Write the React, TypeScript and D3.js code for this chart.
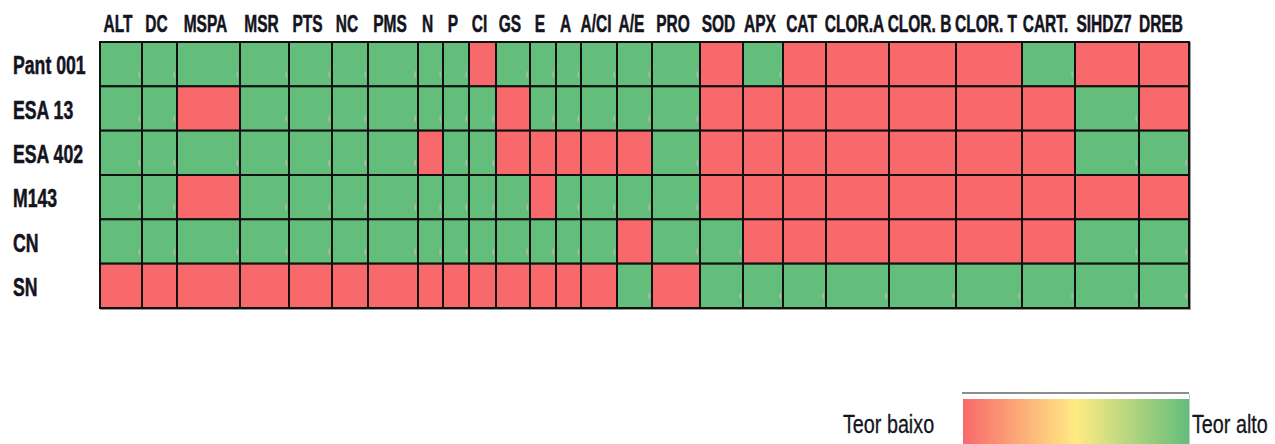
import { useEffect, useRef } from 'react';
import * as d3 from 'd3';

const variables = [
  'ALT', 'DC', 'MSPA', 'MSR', 'PTS', 'NC', 'PMS', 'N', 'P', 'CI', 'GS', 'E', 'A',
  'A/CI', 'A/E', 'PRO', 'SOD', 'APX', 'CAT', 'CLOR.A', 'CLOR. B', 'CLOR. T',
  'CART.', 'SIHDZ7', 'DREB',
];

const genotypes = ['Pant 001', 'ESA 13', 'ESA 402', 'M143', 'CN', 'SN'];

// 1 = teor alto, 0 = teor baixo
const pant001 = [1, 1, 1, 1, 1, 1, 1, 1, 1, 0, 1, 1, 1, 1, 1, 1, 0, 1, 0, 0, 0, 0, 1, 0, 0];
const esa13 = [1, 1, 0, 1, 1, 1, 1, 1, 1, 1, 0, 1, 1, 1, 1, 1, 0, 0, 0, 0, 0, 0, 0, 1, 0];
const esa402 = [1, 1, 1, 1, 1, 1, 1, 0, 1, 1, 0, 0, 0, 0, 0, 1, 0, 0, 0, 0, 0, 0, 0, 1, 1];
const m143 = [1, 1, 0, 1, 1, 1, 1, 1, 1, 1, 1, 0, 1, 1, 1, 1, 0, 0, 0, 0, 0, 0, 0, 0, 0];
const cn = [1, 1, 1, 1, 1, 1, 1, 1, 1, 1, 1, 1, 1, 1, 0, 1, 1, 0, 0, 0, 0, 0, 0, 1, 1];
const sn = [0, 0, 0, 0, 0, 0, 0, 0, 0, 0, 0, 0, 0, 0, 1, 0, 1, 1, 1, 1, 1, 1, 1, 1, 1];

const series = [pant001, esa13, esa402, m143, cn, sn];

// spreadsheet column widths (layout only)
const colWidths = [42, 35, 63, 49, 43, 36, 50, 25, 26, 27, 34, 26, 25, 36, 35, 48, 43, 40, 43, 63, 67, 66, 53, 64, 50];

export default function App() {
  const svgRef = useRef<SVGSVGElement>(null);

  useEffect(() => {
    if (!svgRef.current) return;
    document.body.style.margin = '0';
    const svg = d3.select(svgRef.current);
    svg.selectAll('*').remove();

    const left = 100, right = 1189, top = 42, bottom = 308;
    const font = '"Liberation Sans", Arial, sans-serif';
    const ink = '#141420';
    const sx = 0.66;

    const edges = [0, ...d3.cumsum(colWidths)];
    const x = d3.scaleLinear().domain([0, edges[edges.length - 1]]).range([left, right]);
    const y = d3.scaleBand().domain(genotypes).range([top, bottom]);
    const color = d3.scaleOrdinal<number, string>().domain([0, 1]).range(['#F8696B', '#63BE7B']);

    const cells = series.flatMap((vals, r) =>
      vals.map((v, c) => ({ row: genotypes[r], col: c, v })));

    // shadow of the table
    svg.append('rect')
      .attr('x', left).attr('y', top)
      .attr('width', right - left + 2).attr('height', bottom - top + 2)
      .attr('fill', '#999');

    const g = svg.append('g');
    g.selectAll('rect.cell')
      .data(cells)
      .enter()
      .append('rect')
      .attr('class', 'cell')
      .attr('x', d => x(edges[d.col]))
      .attr('y', d => y(d.row)!)
      .attr('width', d => x(edges[d.col + 1]) - x(edges[d.col]))
      .attr('height', y.bandwidth())
      .attr('fill', d => color(d.v))
      .attr('stroke', '#111')
      .attr('stroke-width', 2);

    // little grey marks in the green cells
    g.selectAll('rect.mark')
      .data(cells.filter(d => d.v === 1))
      .enter()
      .append('rect')
      .attr('x', d => x(edges[d.col + 1]) - 3.5)
      .attr('y', d => y(d.row)! + y.bandwidth() - 15)
      .attr('width', 1.4)
      .attr('height', 6)
      .attr('fill', '#b5b5b5');

    // column headers
    svg.selectAll('text.col')
      .data(variables)
      .enter()
      .append('text')
      .attr('transform', (d, i) =>
        `translate(${(x(edges[i]) + x(edges[i + 1])) / 2 - 3},32) scale(${sx},1)`)
      .attr('text-anchor', 'middle')
      .attr('font-family', font)
      .attr('font-weight', 'bold')
      .attr('font-size', 23.5)
      .attr('fill', ink)
      .attr('stroke', ink)
      .attr('stroke-width', 0.5)
      .text(d => d);

    // row headers
    svg.selectAll('text.row')
      .data(genotypes)
      .enter()
      .append('text')
      .attr('transform', d => `translate(13,${y(d)! + y.bandwidth() / 2 + 10}) scale(0.68,1)`)
      .attr('font-family', font)
      .attr('font-weight', 'bold')
      .attr('font-size', 26)
      .attr('fill', ink)
      .attr('stroke', ink)
      .attr('stroke-width', 0.5)
      .text(d => d);

    // legend
    const defs = svg.append('defs');
    const grad = defs.append('linearGradient').attr('id', 'teor');
    [['0%', '#F8696B'], ['50%', '#FFEB84'], ['100%', '#63BE7B']].forEach(([o, c]) =>
      grad.append('stop').attr('offset', o).attr('stop-color', c));

    const lg = svg.append('g');
    lg.append('line')
      .attr('x1', 962).attr('x2', 1189).attr('y1', 393).attr('y2', 393)
      .attr('stroke', '#666').attr('stroke-width', 1.5);
    lg.append('rect')
      .attr('x', 963).attr('y', 399).attr('width', 226).attr('height', 45)
      .attr('fill', 'url(#teor)');
    lg.append('line')
      .attr('x1', 1189.5).attr('x2', 1189.5).attr('y1', 394).attr('y2', 444)
      .attr('stroke', '#ccc').attr('stroke-width', 1);

    [['Teor baixo', 843], ['Teor alto', 1192]].forEach(([t, px]) =>
      lg.append('text')
        .attr('transform', `translate(${px},433) scale(0.76,1)`)
        .attr('font-family', font)
        .attr('font-size', 26)
        .attr('fill', ink)
        .attr('stroke', ink)
        .attr('stroke-width', 0.3)
        .text(t as string));
  }, []);

  return <svg ref={svgRef} width={1275} height={444} style={{ display: 'block' }}></svg>;
}
